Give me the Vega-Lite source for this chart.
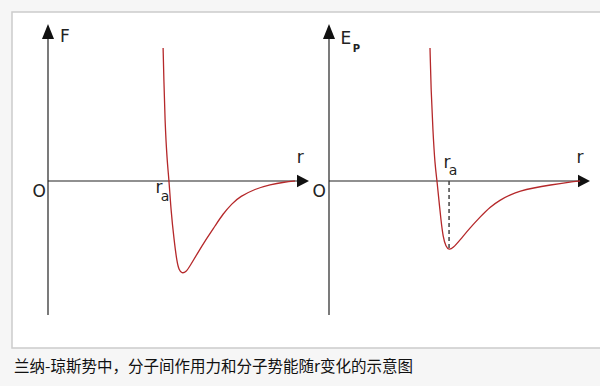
{
  "$schema": "https://vega.github.io/schema/vega-lite/v6.json",
  "width": 600,
  "height": 336,
  "autosize": "none",
  "padding": {"left": 12, "top": 12, "right": 0, "bottom": 38},
  "background": "#f6f6f6",
  "config": {"view": {"fill": "white", "stroke": "#cccccc", "strokeWidth": 1.5}},
  "title": {
    "text": "兰纳-琼斯势中，分子间作用力和分子势能随r变化的示意图",
    "orient": "bottom", "anchor": "start", "frame": "group",
    "font": "Noto Sans CJK SC", "fontSize": 15.5, "fontWeight": "normal",
    "color": "#111111", "offset": 12, "dx": 2
  },
  "datasets": {
    "force": [
      {"r": 4.41, "v": 13.3}, {"r": 4.44, "v": 10.1}, {"r": 4.48, "v": 6.1},
      {"r": 4.56, "v": 2.1}, {"r": 4.64, "v": 0.0}, {"r": 4.71, "v": -2.9},
      {"r": 4.83, "v": -5.9}, {"r": 4.94, "v": -8.1}, {"r": 5.02, "v": -8.9},
      {"r": 5.13, "v": -9.25}, {"r": 5.29, "v": -9.1}, {"r": 5.44, "v": -8.5},
      {"r": 5.71, "v": -7.3}, {"r": 6.09, "v": -5.7}, {"r": 6.40, "v": -4.5},
      {"r": 6.70, "v": -3.3}, {"r": 7.05, "v": -2.25}, {"r": 7.36, "v": -1.55},
      {"r": 7.93, "v": -0.8}, {"r": 8.51, "v": -0.35}, {"r": 9.08, "v": -0.1},
      {"r": 9.46, "v": 0.0}
    ],
    "energy": [
      {"r": 3.87, "v": 13.3}, {"r": 3.91, "v": 9.1}, {"r": 3.98, "v": 5.1},
      {"r": 4.06, "v": 1.6}, {"r": 4.14, "v": 0.0}, {"r": 4.21, "v": -1.9},
      {"r": 4.29, "v": -3.9}, {"r": 4.37, "v": -5.6}, {"r": 4.48, "v": -6.6},
      {"r": 4.60, "v": -6.9}, {"r": 4.75, "v": -6.7}, {"r": 5.02, "v": -5.9},
      {"r": 5.40, "v": -4.7}, {"r": 5.79, "v": -3.6}, {"r": 6.17, "v": -2.6},
      {"r": 6.55, "v": -1.9}, {"r": 6.93, "v": -1.4}, {"r": 7.32, "v": -1.0},
      {"r": 7.82, "v": -0.7}, {"r": 8.47, "v": -0.4}, {"r": 9.23, "v": -0.1},
      {"r": 9.62, "v": 0.0}
    ],
    "axes": [
      {"panel": 1, "r": 0, "v": 0, "r2": 9.6, "v2": 0},
      {"panel": 1, "r": 0, "v": -13.4, "r2": 0, "v2": 14.5},
      {"panel": 2, "r": 0, "v": 0, "r2": 9.6, "v2": 0},
      {"panel": 2, "r": 0, "v": -13.4, "r2": 0, "v2": 14.5}
    ],
    "arrows": [
      {"panel": 1, "dir": "up", "r": 0, "v": 14.95},
      {"panel": 1, "dir": "right", "r": 9.77, "v": 0},
      {"panel": 2, "dir": "up", "r": 0, "v": 14.95},
      {"panel": 2, "dir": "right", "r": 9.77, "v": 0}
    ],
    "guide": [
      {"r": 4.6, "v": 0, "r2": 4.6, "v2": -6.8}
    ],
    "labels": [
      {"panel": 1, "role": "main", "text": "F", "r": 0.65, "v": 14.4},
      {"panel": 1, "role": "main", "text": "O", "r": -0.34, "v": -1.05},
      {"panel": 1, "role": "main", "text": "r", "r": 9.66, "v": 2.3},
      {"panel": 1, "role": "main", "text": "r", "r": 4.25, "v": -0.7},
      {"panel": 1, "role": "sub", "text": "a", "r": 4.48, "v": -1.6},
      {"panel": 2, "role": "main", "text": "E", "r": 0.65, "v": 14.25},
      {"panel": 2, "role": "subP", "text": "P", "r": 1.05, "v": 13.25},
      {"panel": 2, "role": "main", "text": "O", "r": -0.38, "v": -1.1},
      {"panel": 2, "role": "main", "text": "r", "r": 9.62, "v": 2.3},
      {"panel": 2, "role": "main", "text": "r", "r": 4.52, "v": 1.8},
      {"panel": 2, "role": "sub", "text": "a", "r": 4.75, "v": 1.0}
    ]
  },
  "layer": [
    {
      "encoding": {
        "x": {"field": "r", "type": "quantitative", "axis": null,
              "scale": {"domain": [0, 10], "range": [36, 297], "nice": false, "zero": false}},
        "y": {"field": "v", "type": "quantitative", "axis": null,
              "scale": {"domain": [-14, 16], "range": [309, 9], "nice": false, "zero": false}}
      },
      "layer": [
        {
          "data": {"name": "axes"},
          "transform": [{"filter": "datum.panel == 1"}],
          "mark": {"type": "rule", "color": "#222222", "strokeWidth": 1.2},
          "encoding": {"x2": {"field": "r2"}, "y2": {"field": "v2"}}
        },
        {
          "data": {"name": "arrows"},
          "transform": [{"filter": "datum.panel == 1 && datum.dir == 'up'"}],
          "mark": {"type": "point", "shape": "M0,-1L-0.8,1L0.8,1Z", "filled": true, "size": 225, "color": "#111111", "opacity": 1, "strokeWidth": 0}
        },
        {
          "data": {"name": "arrows"},
          "transform": [{"filter": "datum.panel == 1 && datum.dir == 'right'"}],
          "mark": {"type": "point", "shape": "M1,0L-1,-1.05L-1,1.05Z", "filled": true, "size": 144, "color": "#111111", "opacity": 1, "strokeWidth": 0}
        },
        {
          "data": {"name": "force"},
          "mark": {"type": "line", "color": "#b5282a", "strokeWidth": 1.3, "interpolate": "basis"}
        },
        {
          "data": {"name": "labels"},
          "transform": [{"filter": "datum.panel == 1 && datum.role == 'main'"}],
          "mark": {"type": "text", "font": "DejaVu Sans", "fontSize": 17, "color": "#222222", "align": "center", "baseline": "middle"},
          "encoding": {"text": {"field": "text"}}
        },
        {
          "data": {"name": "labels"},
          "transform": [{"filter": "datum.panel == 1 && datum.role == 'sub'"}],
          "mark": {"type": "text", "font": "DejaVu Sans", "fontSize": 14, "color": "#222222", "align": "center", "baseline": "middle"},
          "encoding": {"text": {"field": "text"}}
        }
      ]
    },
    {
      "encoding": {
        "x": {"field": "r", "type": "quantitative", "axis": null,
              "scale": {"domain": [0, 10], "range": [317, 578], "nice": false, "zero": false}},
        "y": {"field": "v", "type": "quantitative", "axis": null,
              "scale": {"domain": [-14, 16], "range": [309, 9], "nice": false, "zero": false}}
      },
      "layer": [
        {
          "data": {"name": "axes"},
          "transform": [{"filter": "datum.panel == 2"}],
          "mark": {"type": "rule", "color": "#222222", "strokeWidth": 1.2},
          "encoding": {"x2": {"field": "r2"}, "y2": {"field": "v2"}}
        },
        {
          "data": {"name": "arrows"},
          "transform": [{"filter": "datum.panel == 2 && datum.dir == 'up'"}],
          "mark": {"type": "point", "shape": "M0,-1L-0.8,1L0.8,1Z", "filled": true, "size": 225, "color": "#111111", "opacity": 1, "strokeWidth": 0}
        },
        {
          "data": {"name": "arrows"},
          "transform": [{"filter": "datum.panel == 2 && datum.dir == 'right'"}],
          "mark": {"type": "point", "shape": "M1,0L-1,-1.05L-1,1.05Z", "filled": true, "size": 144, "color": "#111111", "opacity": 1, "strokeWidth": 0}
        },
        {
          "data": {"name": "guide"},
          "mark": {"type": "rule", "color": "#444444", "strokeWidth": 1.5, "strokeDash": [4, 3]},
          "encoding": {"x2": {"field": "r2"}, "y2": {"field": "v2"}}
        },
        {
          "data": {"name": "energy"},
          "mark": {"type": "line", "color": "#b5282a", "strokeWidth": 1.3, "interpolate": "basis"}
        },
        {
          "data": {"name": "labels"},
          "transform": [{"filter": "datum.panel == 2 && datum.role == 'main'"}],
          "mark": {"type": "text", "font": "DejaVu Sans", "fontSize": 17, "color": "#222222", "align": "center", "baseline": "middle"},
          "encoding": {"text": {"field": "text"}}
        },
        {
          "data": {"name": "labels"},
          "transform": [{"filter": "datum.panel == 2 && datum.role == 'sub'"}],
          "mark": {"type": "text", "font": "DejaVu Sans", "fontSize": 14, "color": "#222222", "align": "center", "baseline": "middle"},
          "encoding": {"text": {"field": "text"}}
        },
        {
          "data": {"name": "labels"},
          "transform": [{"filter": "datum.panel == 2 && datum.role == 'subP'"}],
          "mark": {"type": "text", "font": "DejaVu Sans", "fontSize": 10, "fontWeight": "bold", "color": "#222222", "align": "center", "baseline": "middle"},
          "encoding": {"text": {"field": "text"}}
        }
      ]
    }
  ],
  "resolve": {"scale": {"x": "independent", "y": "independent"}}
}
